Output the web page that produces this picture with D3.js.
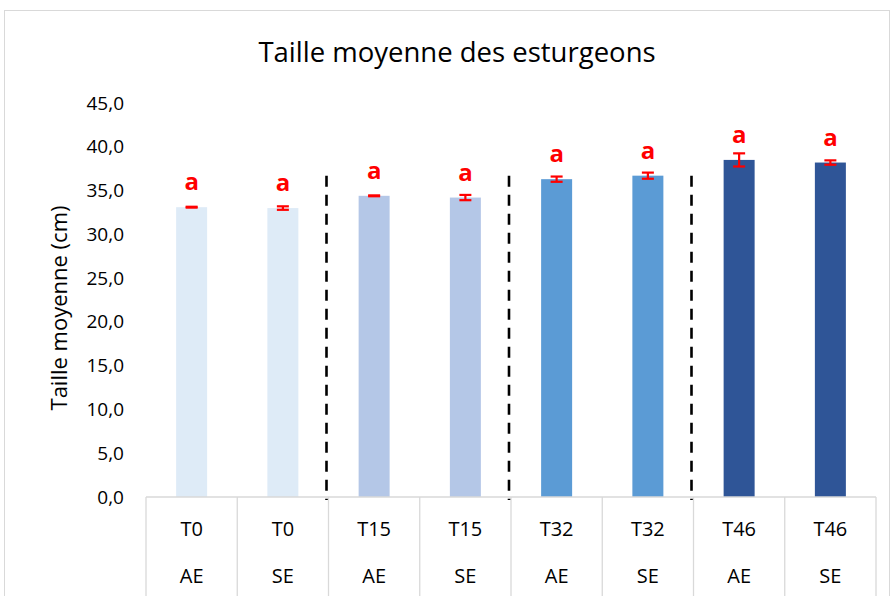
<!DOCTYPE html>
<html>
<head>
<meta charset="utf-8">
<script src="https://cdn.jsdelivr.net/npm/d3@7"></script>
<style>
  html, body { margin: 0; padding: 0; background: #fff; }
  svg { display: block; font-family: "Open Sans", "Noto Sans", sans-serif; }
</style>
</head>
<body>
<svg id="chart" width="893" height="596"></svg>
<script>
// Sampling times and treatment groups
const periods   = ["T0", "T0", "T15", "T15", "T32", "T32", "T46", "T46"];
const groups    = ["AE", "SE", "AE", "SE", "AE", "SE", "AE", "SE"];
// Mean length (cm) and its error
const meanLength = [33.1, 33.0, 34.4, 34.2, 36.3, 36.7, 38.5, 38.2];
const errLength  = [0.05, 0.2, 0.05, 0.3, 0.3, 0.35, 0.75, 0.25];
// Significance letters
const letters    = ["a", "a", "a", "a", "a", "a", "a", "a"];
// Y axis ticks
const yTicks     = [0, 5, 10, 15, 20, 25, 30, 35, 40, 45];
// Dashed separators between periods: after bar index, top value
const separatorsAfter = [1, 3, 5];
const separatorTop    = 36.7;

const periodColor = { T0: "#DEEBF7", T15: "#B4C7E7", T32: "#5B9BD5", T46: "#2F5597" };

const svg = d3.select("#chart");
const W = 893, H = 596;
const m = { left: 146, right: 876, top: 103, bottom: 497 };

// Outer frame
svg.append("rect")
  .attr("x", 4.5).attr("y", 10.5)
  .attr("width", 885).attr("height", 600)
  .attr("fill", "#fff").attr("stroke", "#d9d9d9").attr("stroke-width", 1);

const idx = d3.range(meanLength.length);
const x = d3.scaleBand().domain(idx).range([m.left, m.right]).paddingInner(0).paddingOuter(0);
const y = d3.scaleLinear().domain([0, 45]).range([m.bottom, m.top]);
const barW = 31;

// Title
svg.append("text")
  .attr("x", 457).attr("y", 62)
  .attr("text-anchor", "middle")
  .attr("font-size", 27.5)
  .attr("fill", "#000")
  .text("Taille moyenne des esturgeons");

// Y axis (labels only)
const yAxis = d3.axisLeft(y)
  .tickValues(yTicks)
  .tickSize(0)
  .tickPadding(0)
  .tickFormat(d => d3.format(".1f")(d).replace(".", ","));
const gy = svg.append("g").attr("transform", "translate(124,0)").call(yAxis);
gy.select(".domain").remove();
gy.selectAll("text")
  .attr("font-size", 19)
  .attr("fill", "#000")
  .attr("font-family", "'Open Sans', sans-serif");

// Y axis title
svg.append("text")
  .attr("transform", "translate(67,308) rotate(-90)")
  .attr("text-anchor", "middle")
  .attr("font-size", 22)
  .attr("fill", "#000")
  .text("Taille moyenne (cm)");

// Bars
svg.append("g").selectAll("rect")
  .data(idx)
  .join("rect")
  .attr("x", i => x(i) + x.bandwidth() / 2 - barW / 2)
  .attr("y", i => y(meanLength[i]))
  .attr("width", barW)
  .attr("height", i => y(0) - y(meanLength[i]))
  .attr("fill", i => periodColor[periods[i]]);

// Category axis: baseline and cell dividers
const xa = svg.append("g").attr("stroke", "#d9d9d9").attr("stroke-width", 1.3);
xa.append("line")
  .attr("x1", m.left).attr("x2", m.right)
  .attr("y1", m.bottom).attr("y2", m.bottom);
const bounds = idx.map(i => x(i)).concat([x(idx.length - 1) + x.bandwidth()]);
xa.selectAll("line.div")
  .data(bounds)
  .join("line")
  .attr("class", "div")
  .attr("x1", d => d).attr("x2", d => d)
  .attr("y1", m.bottom).attr("y2", H);

// Category labels (two rows)
const lab = svg.append("g").attr("font-size", 20).attr("fill", "#000").attr("text-anchor", "middle");
lab.selectAll("text.p")
  .data(idx)
  .join("text")
  .attr("class", "p")
  .attr("x", i => x(i) + x.bandwidth() / 2)
  .attr("y", 536)
  .text(i => periods[i]);
lab.selectAll("text.g")
  .data(idx)
  .join("text")
  .attr("class", "g")
  .attr("x", i => x(i) + x.bandwidth() / 2)
  .attr("y", 583)
  .text(i => groups[i]);

// Dashed separators between periods
svg.append("g").selectAll("line")
  .data(separatorsAfter)
  .join("line")
  .attr("x1", i => x(i) + x.bandwidth() - 2)
  .attr("x2", i => x(i) + x.bandwidth() - 2)
  .attr("y1", y(separatorTop))
  .attr("y2", m.bottom + 3)
  .attr("stroke", "#000")
  .attr("stroke-width", 2.6)
  .attr("stroke-dasharray", "11,8");

// Error bars
const eb = svg.append("g").attr("stroke", "#FF0000").attr("stroke-width", 2.2);
idx.forEach(i => {
  const cx = x(i) + x.bandwidth() / 2;
  const lo = y(meanLength[i] - errLength[i]);
  const hi = y(meanLength[i] + errLength[i]);
  eb.append("line").attr("x1", cx).attr("x2", cx).attr("y1", lo).attr("y2", hi);
  eb.append("line").attr("x1", cx - 6).attr("x2", cx + 6).attr("y1", lo).attr("y2", lo);
  eb.append("line").attr("x1", cx - 6).attr("x2", cx + 6).attr("y1", hi).attr("y2", hi);
});

// Significance letters
svg.append("g").selectAll("text")
  .data(idx)
  .join("text")
  .attr("x", i => x(i) + x.bandwidth() / 2)
  .attr("y", i => y(meanLength[i]) - 17)
  .attr("text-anchor", "middle")
  .attr("font-size", 24)
  .attr("font-weight", "bold")
  .attr("fill", "#FF0000")
  .text(i => letters[i]);
</script>
</body>
</html>
